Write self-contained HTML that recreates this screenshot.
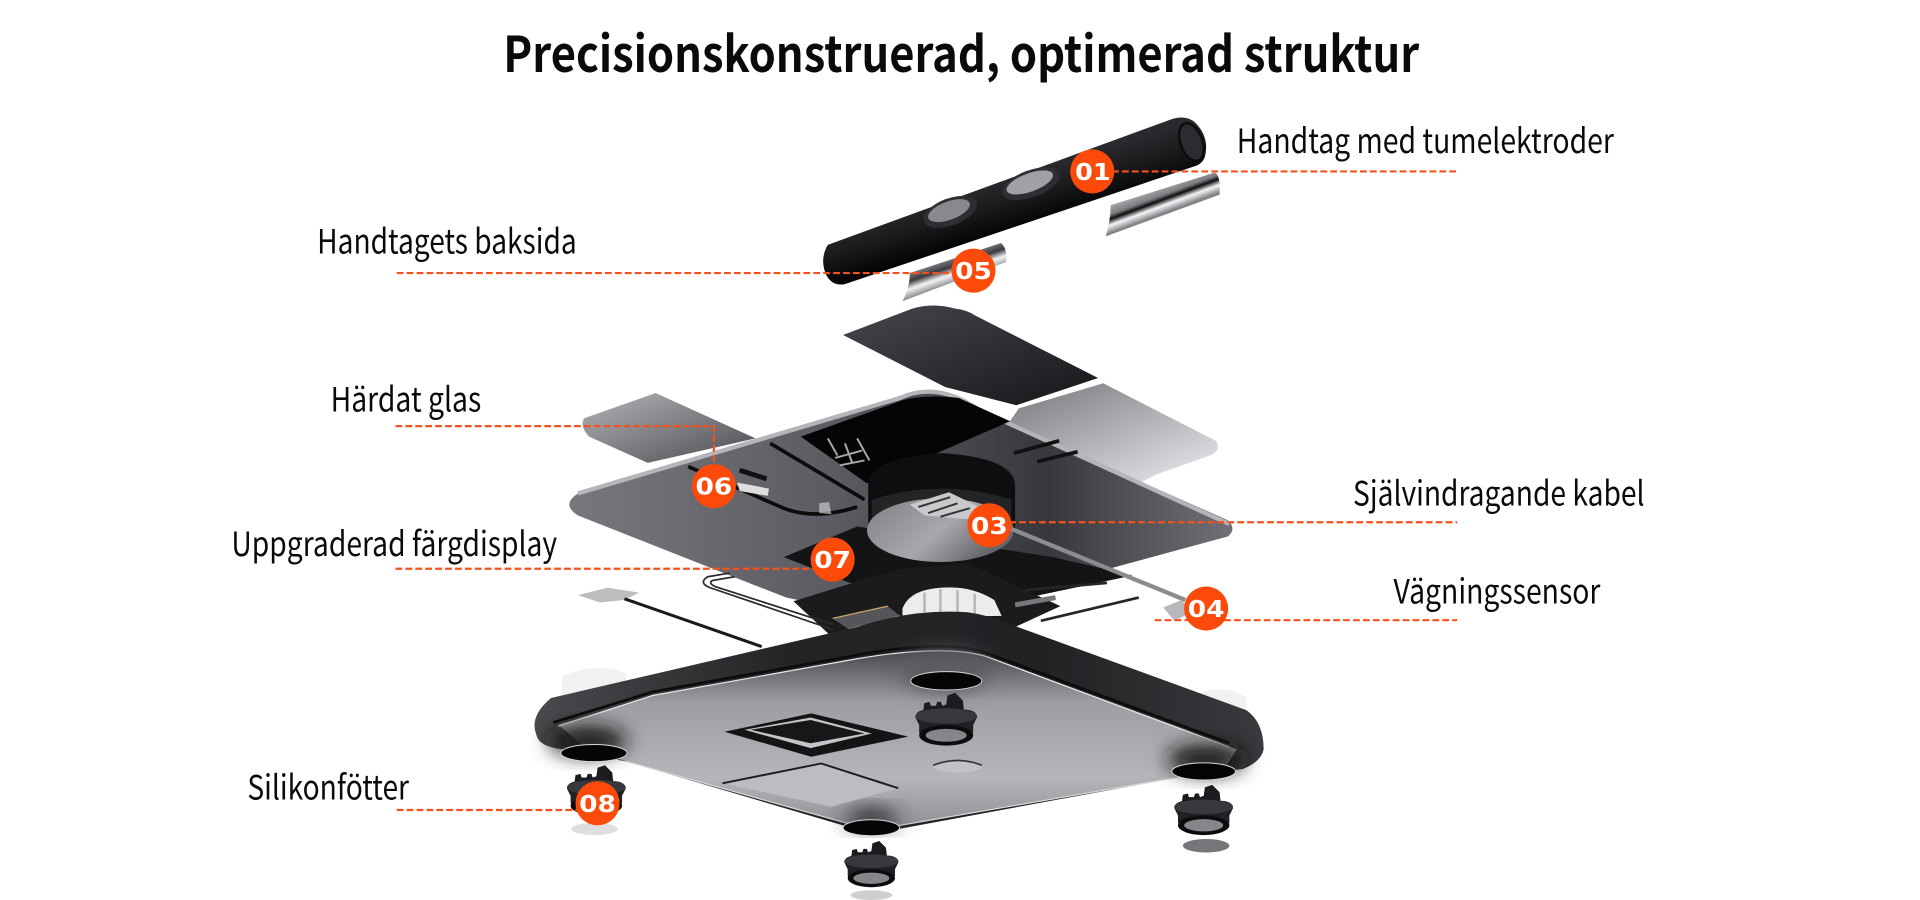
<!DOCTYPE html>
<html><head><meta charset="utf-8"><style>
html,body{margin:0;padding:0;background:#fff;width:1920px;height:900px;overflow:hidden}
svg{display:block}
.l{font-family:"Noto Sans CJK SC","Liberation Sans",sans-serif;font-size:27.5px;fill:#0a0a0a}
.n{font-family:"DejaVu Sans","Liberation Sans",sans-serif;font-weight:bold;font-size:18.5px;fill:#fff}
.d{stroke:#f4511e;stroke-width:1.8;stroke-dasharray:5.5 2.6;fill:none}
</style></head><body>
<svg width="1920" height="900" viewBox="0 0 1568 735" xmlns="http://www.w3.org/2000/svg">
<defs>
<filter id="b8" x="-50%" y="-50%" width="200%" height="200%"><feGaussianBlur stdDeviation="8"/></filter>
<linearGradient id="h" gradientUnits="userSpaceOnUse" x1="820" y1="145" x2="832" y2="185"><stop offset="0" stop-color="#2a2a2e"/><stop offset=".5" stop-color="#1a1a1d"/><stop offset="1" stop-color="#050506"/></linearGradient>
<linearGradient id="st1" gradientUnits="userSpaceOnUse" x1="942" y1="153" x2="952" y2="180"><stop offset="0" stop-color="#b0b0b4"/><stop offset=".3" stop-color="#7c7c80"/><stop offset=".42" stop-color="#0c0c0c"/><stop offset=".58" stop-color="#f6f6f8"/><stop offset=".8" stop-color="#7d7d82"/><stop offset="1" stop-color="#d0d0d4"/></linearGradient>
<linearGradient id="st2" gradientUnits="userSpaceOnUse" x1="776" y1="210" x2="785" y2="236"><stop offset="0" stop-color="#8a8a8e"/><stop offset=".28" stop-color="#3a3a3e"/><stop offset=".5" stop-color="#f4f4f6"/><stop offset=".75" stop-color="#909095"/><stop offset="1" stop-color="#dcdce0"/></linearGradient>
<linearGradient id="dk" x1="0" y1="0" x2="1" y2="1"><stop offset="0" stop-color="#46464c"/><stop offset="1" stop-color="#17171a"/></linearGradient>
<linearGradient id="sv" x1="0" y1="0" x2="1" y2="1"><stop offset="0" stop-color="#6f6f74"/><stop offset=".5" stop-color="#adadb2"/><stop offset="1" stop-color="#eeedf2"/></linearGradient>
<linearGradient id="lf" x1="0" y1="0" x2="1" y2="1"><stop offset="0" stop-color="#b4b4b8"/><stop offset="1" stop-color="#4c4c50"/></linearGradient>
<linearGradient id="pl" x1="0" y1="0.5" x2="1" y2="0.5"><stop offset="0" stop-color="#77777d"/><stop offset=".4" stop-color="#5b5b61"/><stop offset=".72" stop-color="#38383c"/><stop offset="1" stop-color="#707076"/></linearGradient>
<linearGradient id="und" x1="0.5" y1="0" x2="0.5" y2="1"><stop offset="0" stop-color="#48484c"/><stop offset=".28" stop-color="#9c9ca1"/><stop offset=".7" stop-color="#b6b6ba"/><stop offset="1" stop-color="#8f8f93"/></linearGradient>
<linearGradient id="rim" x1="0" y1="0" x2="1" y2="0"><stop offset="0" stop-color="#4a4a4e"/><stop offset=".35" stop-color="#242427"/><stop offset=".7" stop-color="#222225"/><stop offset="1" stop-color="#3a3a3e"/></linearGradient>
<linearGradient id="cyl" x1="0" y1="0" x2="1" y2="0.5"><stop offset="0" stop-color="#7f7f84"/><stop offset=".6" stop-color="#a8a8ac"/><stop offset="1" stop-color="#66666a"/></linearGradient>
<g id="foot">
<path d="M-18,-8 l1,-7 l4,-1 l1,3 l4,0 l1,-3 l3,0 l1,3 l3,-1 l1,-7 l6,-2 l6,6 l1,9z" fill="#1c1c20"/>
<path d="M-24,-4 Q-24,-9 -16,-10 H16 Q24,-9 24,-4 L21,2 V8 Q0,24 -21,8 V2z" fill="#212125"/>
<ellipse cx="0" cy="-5" rx="24" ry="6" fill="#38383d"/>
<ellipse cx="0" cy="10" rx="21" ry="8" fill="#0c0c0e"/>
<ellipse cx="0" cy="10" rx="16" ry="5" fill="#85858a"/>
</g>
</defs>

<!-- title -->
<text x="411" y="59" textLength="748" lengthAdjust="spacingAndGlyphs" style="font-family:'Noto Sans CJK SC','Liberation Sans',sans-serif;font-weight:700;font-size:40.5px;fill:#0a0a0a">Precisionskonstruerad, optimerad struktur</text>

<!-- handle -->
<path d="M676,200 L955,98 Q968,93 976,100 Q988,112 984,128 Q982,134 975,136 L690,232 Q680,234 675,225 Q669,212 676,200z" fill="url(#h)"/>
<ellipse cx="776" cy="173" rx="23" ry="11" transform="rotate(-20 776 173)" fill="#2e2e32"/>
<ellipse cx="842" cy="150" rx="25" ry="11" transform="rotate(-20 842 150)" fill="#2e2e32"/>
<ellipse cx="775" cy="172" rx="18" ry="7.5" transform="rotate(-20 775 172)" fill="#88888d"/>
<ellipse cx="841" cy="149" rx="20" ry="7.5" transform="rotate(-20 841 149)" fill="#a0a0a5"/>
<ellipse cx="973" cy="116" rx="9" ry="16" transform="rotate(-20 973 116)" fill="#2c2c30" stroke="#0c0c0e" stroke-width="2"/>
<path d="M992,141 Q997,143 996,159 L903,193 Q907,180 907,167.5z" fill="url(#st1)"/>
<path d="M817.5,198.5 Q823,203 821.6,214 L737,246 Q743,235 743,223z" fill="url(#st2)"/>

<!-- back plates -->
<path d="M688.5,273.6 L745,252 Q762,247 780,252 Q790,253 797,258 L896.8,308.7 L830,331 L771.8,316z" fill="url(#dk)"/>
<path d="M901,313 L993,360 Q998,368 988,372 L943,388 L930,395 L800,380 L832,333.5z" fill="url(#sv)"/>
<path d="M535.4,321 L477,341.6 Q473,348 481,356.6 L529,378 L617,358z" fill="url(#lf)"/>

<!-- main plate -->
<path d="M472,403 L730,325 Q766,311 800,335 L1003,425 Q1010,432 1003,438 L900,466 L850,480 L700,500 L642,488 L472,421 Q458,412 472,403z" fill="url(#pl)"/>
<path d="M472,403 L735,325 Q766,311 800,335 L1004,428" fill="none" stroke="#b5b5b9" stroke-width="3.5"/>
<path d="M654,356.6 L737.6,326.7 Q755,322 783,325 L825,344 L708,394.8z" fill="#050505"/>
<path d="M629,362 L706,408" stroke="#0c0c0c" stroke-width="3" fill="none"/>
<path d="M562,381 L640,415 Q665,425 700,414" stroke="#0c0c0c" stroke-width="3" fill="none"/>
<path d="M828,370 L865,360 M847,377 L880,369" stroke="#111" stroke-width="3"/>
<path d="M604,384 L626,391" stroke="#111" stroke-width="4"/>
<path d="M676,358 l8,14 M690,362 l6,16 M700,358 l10,18 M682,374 l22,-6 M686,380 l20,-4" stroke="#a8a8ac" stroke-width="1.6" fill="none"/>
<path d="M602,394 L628,399 L627,405 L604,401z" fill="#ddd"/>
<path d="M669,411 l8,-1 l2,10 l-10,-1z" fill="#c8c8c8" opacity=".7"/>

<!-- pcb / lower layer -->
<path d="M640,455 L700,430 L860,455 L925,470 L830,490 L694,476z" fill="#141416"/>
<path d="M648,491 L732,465 L790,460 L866,495 L790,530 L690,530z" fill="#1b1b1e"/>
<path d="M596,468 L578,471 Q570,476 580,480 L680,514 M600,471 L582,474 Q578,476 584,479 L680,510" stroke="#2a2a2e" stroke-width="1.4" fill="none"/>
<path d="M850,507 L930,488 M837,482 L904,476" stroke="#26262a" stroke-width="2.2"/>
<path d="M829,494 L862,488" stroke="#77777c" stroke-width="4"/>
<path d="M680,505 L725,495 L735,503 L693,514z" fill="#55555a"/>
<path d="M680,505 L725,495 M693,514 L735,503" stroke="#c9a66b" stroke-width="1"/>
<path d="M737,497 Q742,484 760,481 Q790,476 812,490 L818,503 L737,504z" fill="#ececec"/>
<path d="M755,484 v16 M768,481 v20 M782,482 v20 M796,485 v16" stroke="#b5b5b8" stroke-width="2"/>
<path d="M472,486 L496,480 L522,484 L510,490 L490,492z" fill="#bdbdbd"/>
<path d="M510,489 L622,528" stroke="#1a1a1c" stroke-width="2.5"/>

<!-- rotor -->
<path d="M709,396 Q709,374 769,370 Q828,374 829,396 L829,436 H709z" fill="#0e0e10"/>
<path d="M712,408 Q769,390 826,408 V430 H712z" fill="#242427"/>
<ellipse cx="768" cy="433" rx="60" ry="26" fill="url(#cyl)"/>
<path d="M743,412 L775,402 L800,414 L790,424 L755,421z" fill="#c9c9cc"/>
<path d="M750,414 L776,406 M758,419 L782,411 M768,422 L792,415" stroke="#333" stroke-width="1.6"/>
<path d="M826,432 L968,490" stroke="#8c8c90" stroke-width="3.5"/>
<path d="M950,496 l15,-6 l8,10 l-14,7z" fill="#b8b8bc"/>

<!-- clear caps -->
<path d="M460,552 Q488,540 511,550 L511,572 L465,584 Q456,570 460,552z" fill="#f1f1f3"/>
<path d="M980,566 Q1000,558 1018,570 L1018,595 L985,585z" fill="#f1f1f3"/>

<!-- body -->
<path d="M450,570 L700,512 Q745,497 790,500 Q805,502 820,508 L1018,580 Q1032,590 1032,612 Q1030,622 1015,628 L967,634 L712,681 L512,622 L460,612 Q440,610 438,600 Q432,585 450,570z" fill="url(#rim)"/>
<path d="M456,592 L533,568 L700,538 Q770,526 805,536 L1010,612 L1000,628 L967,634 L712,678 L512,622 L480,612z" fill="url(#und)"/>
<path d="M452,590 L533,565 L700,535 Q770,522 805,533 L1004,607" fill="none" stroke="#0c0c0e" stroke-width="2.2"/>
<path d="M456,593 L533,568 L700,538 Q770,526 805,536 L1004,610" fill="none" stroke="#e8e8ea" stroke-width="1"/>
<path d="M512,622 L712,678 L967,634" fill="none" stroke="#d8d8dc" stroke-width="1"/>
<ellipse cx="480" cy="605" rx="32" ry="12" fill="#141416" filter="url(#b8)"/>
<ellipse cx="985" cy="620" rx="32" ry="12" fill="#141416" filter="url(#b8)"/>
<ellipse cx="712" cy="668" rx="22" ry="8" fill="#2a2a2e" filter="url(#b8)"/>
<ellipse cx="772" cy="548" rx="36" ry="17" fill="#5c5c60" filter="url(#b8)"/>
<path d="M591.7,597.6 L662.5,582.6 L741.7,601.6 L662.5,618z" fill="#141416"/>
<path d="M608,596 L662,586 L712,599 L662,611z" fill="#c4c4c8"/>
<path d="M613,596 L662,588 L706,599 L662,607z" fill="#17171a"/>
<path d="M590,639.7 L670.7,623.5 L733.6,643.7 L679,658.8z" fill="#bdbdc1"/>
<path d="M590,639.7 L670.7,623.5 L733.6,643.7" fill="none" stroke="#1d1d20" stroke-width="1.6"/>
<ellipse cx="772.8" cy="556" rx="29" ry="7.5" fill="#050505" stroke="#d8d8dc" stroke-width=".8"/>
<ellipse cx="485" cy="615" rx="27" ry="7" fill="#050505" stroke="#d8d8dc" stroke-width=".8"/>
<ellipse cx="983" cy="630" rx="26" ry="7" fill="#050505" stroke="#d8d8dc" stroke-width=".8"/>
<ellipse cx="711.6" cy="676" rx="23" ry="6.5" fill="#050505" stroke="#d8d8dc" stroke-width=".8"/>
<ellipse cx="782" cy="626" rx="20" ry="5" fill="#c2c2c6"/>
<path d="M762,625 Q782,617 802,625" stroke="#333" stroke-width="1.3" fill="none"/>
<g transform="translate(772.7 590) scale(1.05)"><use href="#foot"/></g>
<g transform="translate(487 648)"><use href="#foot"/></g>
<g transform="translate(983 664)"><use href="#foot"/></g>
<g transform="translate(711.6 708) scale(.92)"><use href="#foot"/></g>
<ellipse cx="485.5" cy="677" rx="19" ry="5" fill="#dedee0"/>
<ellipse cx="985" cy="690.7" rx="19" ry="5.5" fill="#77777b"/>
<ellipse cx="711.6" cy="731" rx="17" ry="4" fill="#cfcfd2"/>

<!-- dashed leaders -->
<path class="d" d="M892,140 H1190"/>
<path class="d" d="M324,223 H795"/>
<path class="d" d="M323,348 H583 V397"/>
<path class="d" d="M808,426.5 H1190"/>
<path class="d" d="M323,464.5 H680"/>
<path class="d" d="M943,506.5 H1190"/>
<path class="d" d="M324,661.5 H488"/>

<!-- badges -->
<g fill="#fb4a0a">
<circle cx="892" cy="140" r="18"/><circle cx="795" cy="221" r="18"/><circle cx="583" cy="397" r="18"/><circle cx="808" cy="429" r="18"/><circle cx="680" cy="457" r="18"/><circle cx="985" cy="497" r="18"/><circle cx="488" cy="656" r="18"/>
</g>
<text class="n" x="878" y="147" textLength="29" lengthAdjust="spacingAndGlyphs">01</text>
<text class="n" x="780" y="228" textLength="30" lengthAdjust="spacingAndGlyphs">05</text>
<text class="n" x="568" y="404" textLength="30" lengthAdjust="spacingAndGlyphs">06</text>
<text class="n" x="793" y="436" textLength="30" lengthAdjust="spacingAndGlyphs">03</text>
<text class="n" x="665" y="464" textLength="30" lengthAdjust="spacingAndGlyphs">07</text>
<text class="n" x="970" y="504" textLength="30" lengthAdjust="spacingAndGlyphs">04</text>
<text class="n" x="473" y="663" textLength="30" lengthAdjust="spacingAndGlyphs">08</text>

<!-- labels -->
<text class="l" x="1010" y="125" textLength="308" lengthAdjust="spacingAndGlyphs">Handtag med tumelektroder</text>
<text class="l" x="259" y="207" textLength="212" lengthAdjust="spacingAndGlyphs">Handtagets baksida</text>
<text class="l" x="270" y="336" textLength="123" lengthAdjust="spacingAndGlyphs">Härdat glas</text>
<text class="l" x="1105" y="413" textLength="238" lengthAdjust="spacingAndGlyphs">Självindragande kabel</text>
<text class="l" x="189" y="454" textLength="266" lengthAdjust="spacingAndGlyphs">Uppgraderad färgdisplay</text>
<text class="l" x="1138" y="493" textLength="169" lengthAdjust="spacingAndGlyphs">Vägningssensor</text>
<text class="l" x="202" y="653" textLength="132" lengthAdjust="spacingAndGlyphs">Silikonfötter</text>
</svg>
</body></html>
